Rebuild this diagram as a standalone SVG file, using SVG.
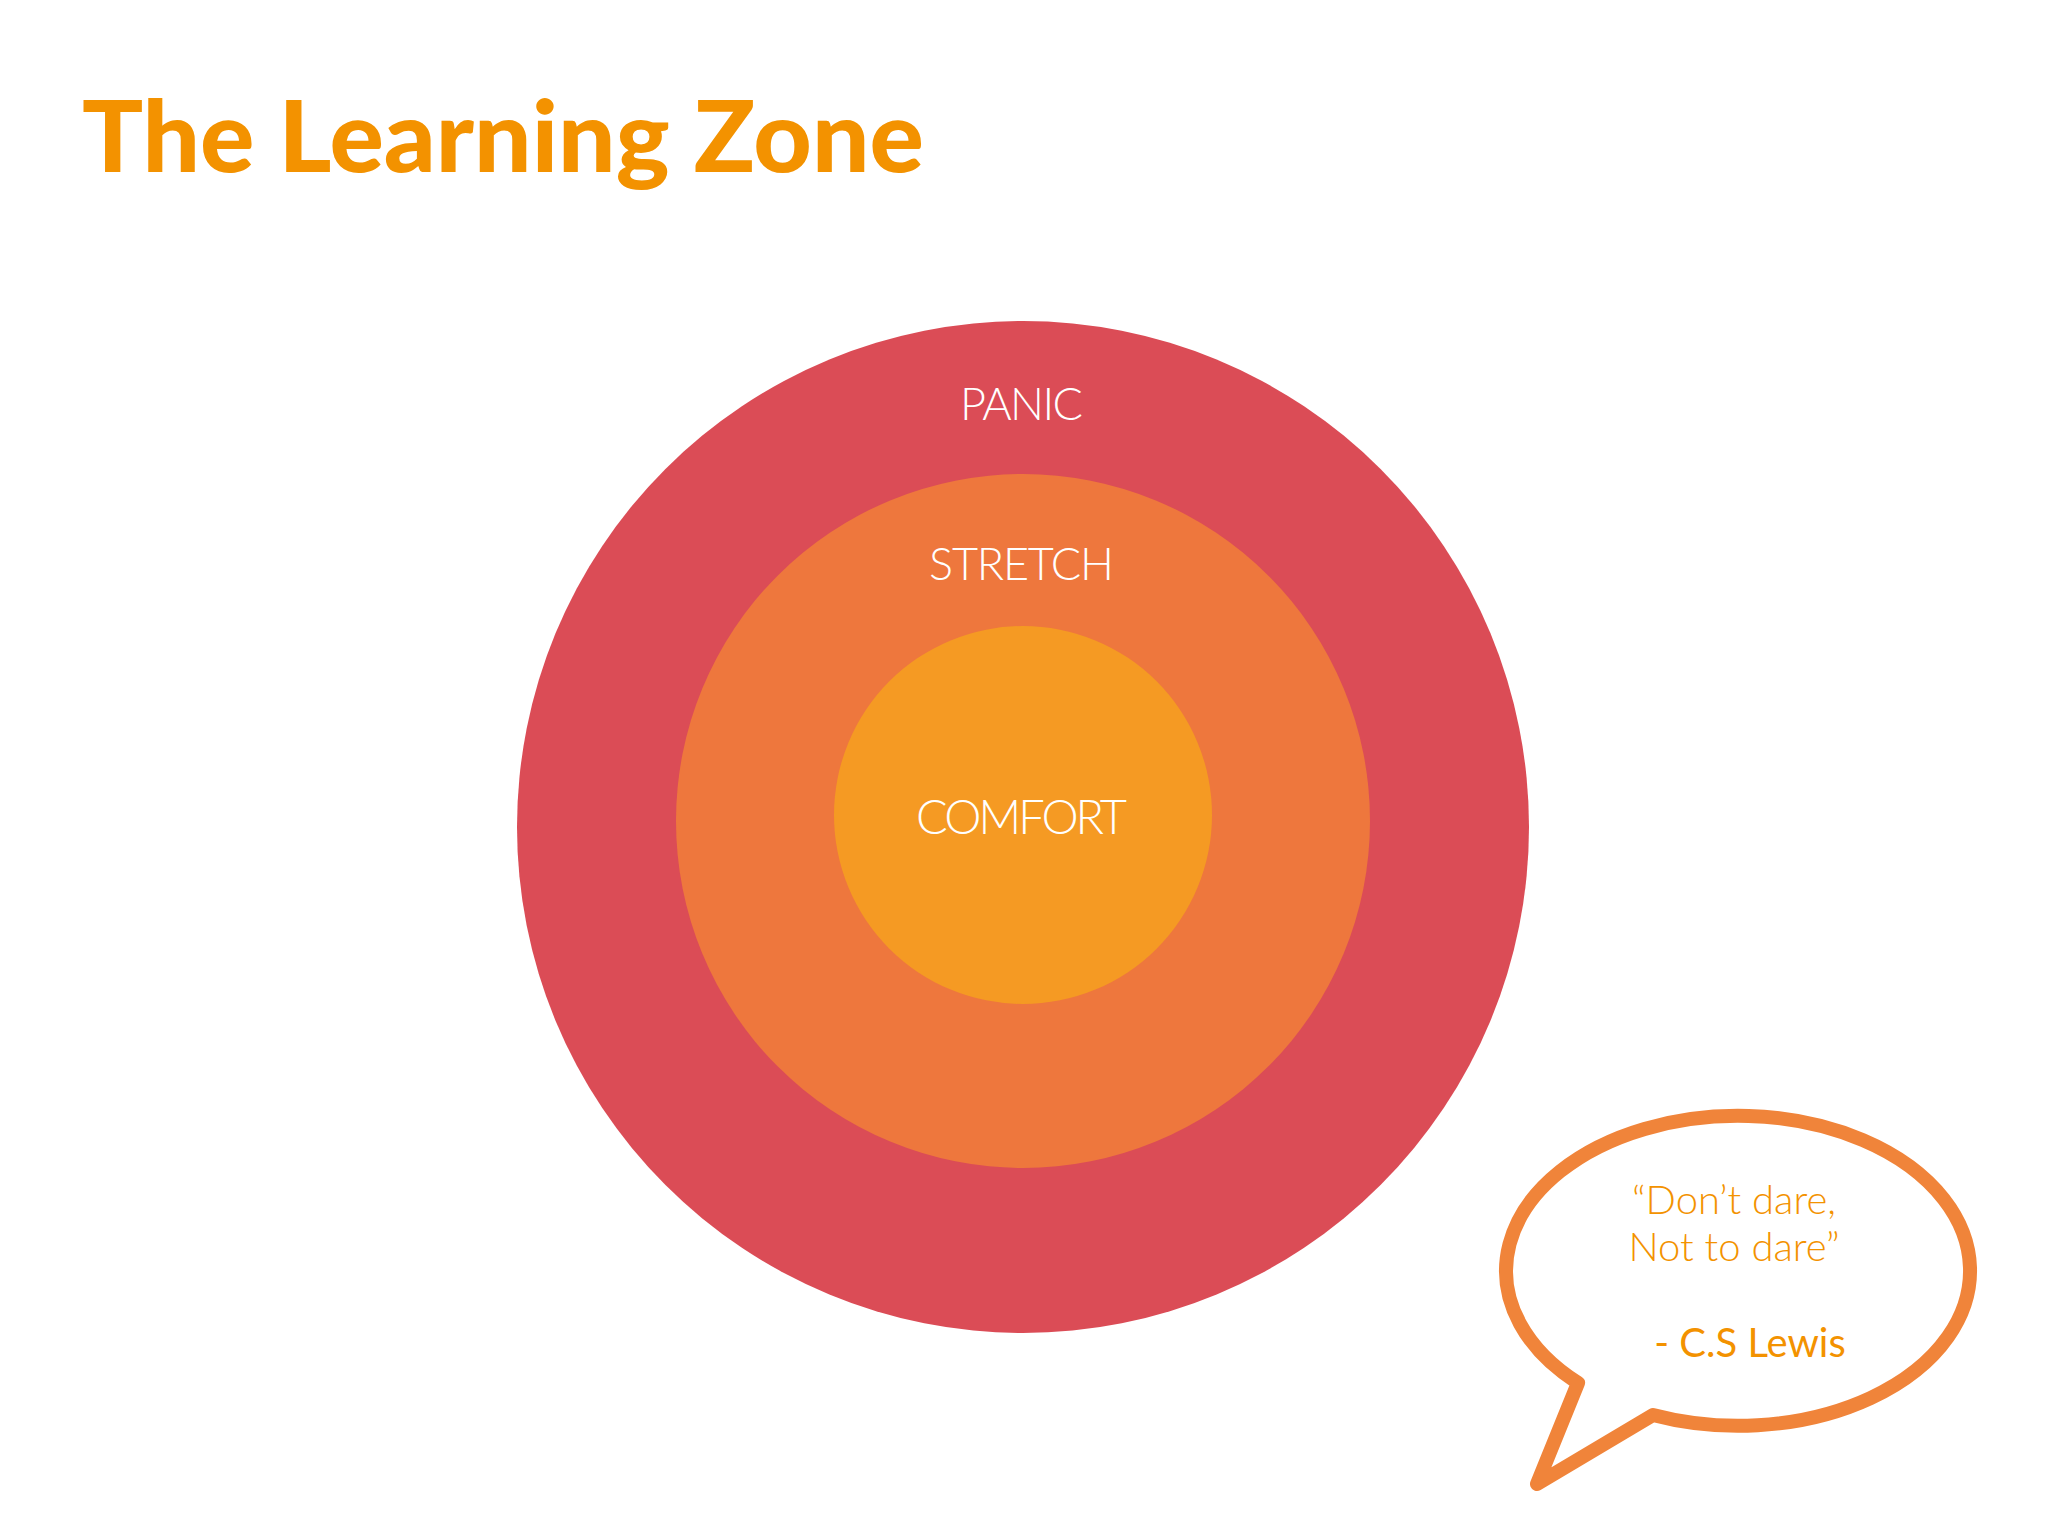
<svg xmlns="http://www.w3.org/2000/svg" width="2048" height="1536" viewBox="0 0 2048 1536">
<style>
.lbl{font-family:Lato,"Noto Sans",sans-serif;font-weight:300;fill:#fff;text-anchor:middle;letter-spacing:3px}
.q{font-family:Lato,"Noto Sans",sans-serif;fill:#F39200;text-anchor:middle;font-size:40px}
</style>
<rect width="2048" height="1536" fill="#fff"/>
<text id="title" x="82" y="172" font-family="Lato,'Noto Sans',sans-serif" font-weight="900" font-size="99" fill="#F39200" textLength="842" lengthAdjust="spacingAndGlyphs">The Learning Zone</text>
<g id="panic"><circle cx="1023" cy="827" r="506" fill="#DB4C56"/><text class="lbl" x="1023" y="420" font-size="45" textLength="126">PANIC</text></g>
<g id="stretch"><circle cx="1023" cy="821" r="347" fill="#EE773D"/><text class="lbl" x="1023" y="580" font-size="45" textLength="188">STRETCH</text></g>
<g id="comfort"><circle cx="1023" cy="815" r="189" fill="#F59A23"/><text class="lbl" x="1023" y="834" font-size="47" textLength="214">COMFORT</text></g>
<g id="quote">
<path d="M1653,1415 A232,155 0 1 0 1578,1383 L1537,1484 Z" fill="#fff" stroke="#F0843A" stroke-width="14" stroke-linejoin="round"/>
<text class="q" x="1734" y="1214" font-weight="300">“Don’t dare,</text>
<text class="q" x="1734" y="1261" font-weight="300">Not to dare”</text>
<text class="q" x="1750" y="1357" font-weight="400">- C.S Lewis</text>
</g>
<g id="connectors"/>
</svg>
